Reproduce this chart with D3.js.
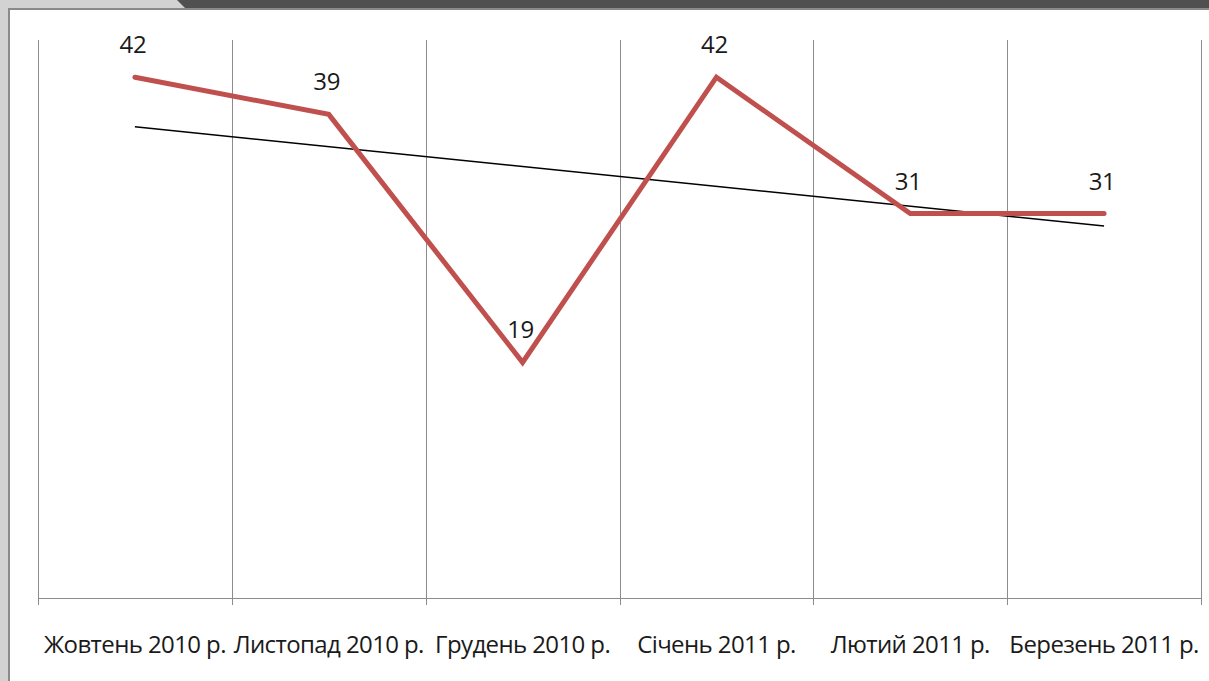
<!DOCTYPE html>
<html lang="uk">
<head>
  <meta charset="UTF-8">
  <title>Графік 2010-2011</title>
  <script src="https://cdn.jsdelivr.net/npm/d3@7"></script>
  <style>
    html, body { margin: 0; padding: 0; background: #d2d2d2; }
    svg { display: block; }
    .x-axis text { font-family: "Open Sans", "Noto Sans", sans-serif; font-size: 24px; letter-spacing: -0.6px; fill: #1a1a1a; }
    .label { font-family: "Open Sans", "Noto Sans", sans-serif; font-size: 24px; letter-spacing: -0.3px; fill: #1a1a1a; }
  </style>
</head>
<body>
<script>
  // дані з графіка
  const months = ['Жовтень 2010 р.', 'Листопад 2010 р.', 'Грудень 2010 р.', 'Січень 2011 р.', 'Лютий 2011 р.', 'Березень 2011 р.'];
  const values = [42, 39, 19, 42, 31, 31];
  const yMax = 45;

  const width = 1209;
  const height = 681;
  const margin = {top: 40, right: 8, bottom: 83, left: 38};

  const svg = d3.select('body').append('svg').attr('width', width).attr('height', height);

  // рамка слайду
  svg.append('rect').attr('x', 0).attr('y', 0).attr('width', width).attr('height', height).attr('fill', '#d2d2d2');
  svg.append('path')
    .attr('d', `M177,0 L${width},0 L${width},8 L185,8 Z`)
    .attr('fill', '#505050');
  svg.append('rect').attr('x', 8).attr('y', 8).attr('width', width - 8).attr('height', height - 8).attr('fill', '#8a8a8a');
  svg.append('rect').attr('x', 10).attr('y', 10).attr('width', width - 10).attr('height', height - 10).attr('fill', '#ffffff');

  const x = d3.scaleBand()
    .domain(months)
    .range([margin.left, width - margin.right])
    .padding(0);

  const y = d3.scaleLinear()
    .domain([0, yMax])
    .range([height - margin.bottom, margin.top]);

  // вертикальні лінії сітки
  const bounds = months.map(m => x(m)).concat([x(months[months.length - 1]) + x.bandwidth()]);
  svg.append('g')
    .selectAll('line')
    .data(bounds)
    .join('line')
    .attr('x1', d => Math.round(d) + 0.5)
    .attr('x2', d => Math.round(d) + 0.5)
    .attr('y1', margin.top)
    .attr('y2', height - margin.bottom + 7)
    .attr('stroke', '#8c8c8c')
    .attr('stroke-width', 1);

  // вісь X
  svg.append('g')
    .attr('class', 'x-axis')
    .attr('transform', `translate(0,${height - margin.bottom})`)
    .call(d3.axisBottom(x).tickSize(0).tickPadding(38))
    .call(g => g.select('.domain').attr('stroke', '#8c8c8c').attr('d', `M${margin.left},0.5H${width - margin.right}`));

  // лінія тренду (лінійна регресія)
  const idx = values.map((v, i) => i + 1);
  const mx = d3.mean(idx), my = d3.mean(values);
  const slope = d3.sum(idx, (t, i) => (t - mx) * (values[i] - my)) / d3.sum(idx, t => (t - mx) * (t - mx));
  const icpt = my - slope * mx;
  const trend = [idx[0], idx[idx.length - 1]].map(t => ({m: months[t - 1], v: icpt + slope * t}));

  const cx = m => x(m) + x.bandwidth() / 2;

  svg.append('path')
    .datum(trend)
    .attr('fill', 'none')
    .attr('stroke', '#000')
    .attr('stroke-width', 1.5)
    .attr('d', d3.line().x(d => cx(d.m)).y(d => y(d.v)));

  // основна лінія
  const series = months.map((m, i) => ({m: m, v: values[i]}));
  svg.append('path')
    .datum(series)
    .attr('fill', 'none')
    .attr('stroke', '#c0504d')
    .attr('stroke-width', 5)
    .attr('stroke-linejoin', 'miter')
    .attr('stroke-linecap', 'round')
    .attr('d', d3.line().x(d => cx(d.m)).y(d => y(d.v)));

  // підписи значень
  svg.append('g')
    .selectAll('text')
    .data(series)
    .join('text')
    .attr('class', 'label')
    .attr('x', d => cx(d.m) - 2)
    .attr('y', d => y(d.v) - 24)
    .attr('text-anchor', 'middle')
    .text(d => d.v);
</script>
</body>
</html>
